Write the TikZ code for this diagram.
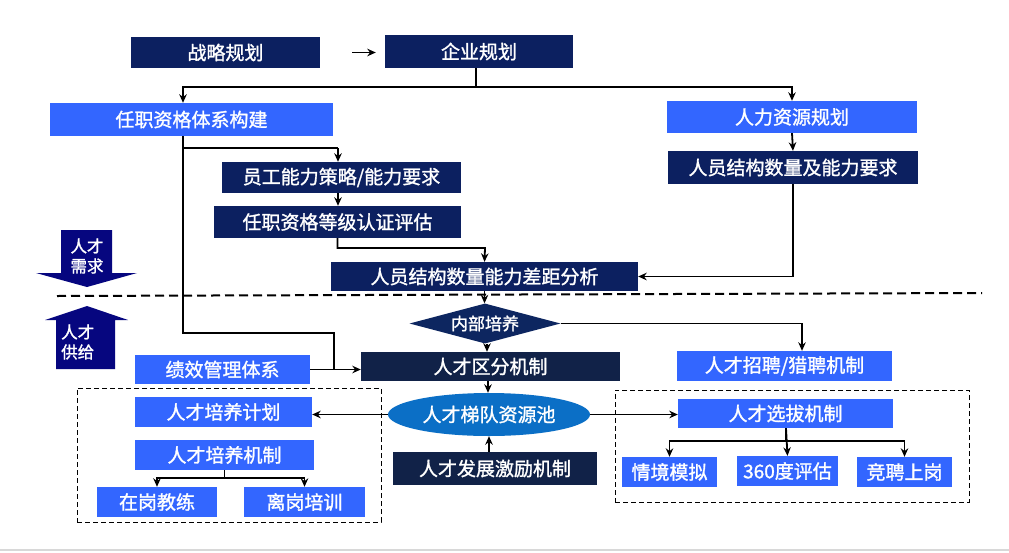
\documentclass[tikz,border=0pt]{standalone}
\usepackage{fontspec}
\setmainfont{Noto Sans CJK SC}[BoldFont={Noto Sans CJK SC}, BoldFeatures={FakeBold=1.4}]
\usetikzlibrary{shapes.geometric,arrows.meta}
\definecolor{navy}{HTML}{0C2060}
\definecolor{navytwo}{HTML}{112248}
\definecolor{bblue}{HTML}{3366FF}
\definecolor{pool}{HTML}{0B6FC6}
\definecolor{bigarrow}{HTML}{06067F}
\definecolor{diam}{HTML}{0D2660}
\definecolor{sepgray}{HTML}{D8D8D8}
\tikzset{
  bx/.style={inner sep=0pt, text=white, font=\fontsize{19}{21}\selectfont\bfseries},
  dk/.style={bx, fill=navy},
  dktwo/.style={bx, fill=navytwo},
  bl/.style={bx, fill=bblue},
  ln/.style={line width=1.8pt, black},
  ar/.style={ln, -{Stealth[length=8.5pt,width=7.5pt]}},
  grp/.style={draw=black, line width=0.9pt, dash pattern=on 5pt off 3pt, inner sep=0pt},
  bigtxt/.style={text=white, font=\fontsize{16.5}{20}\selectfont\bfseries, inner sep=0pt, align=center},
}
\begin{document}
\begin{tikzpicture}[x=1pt,y=-1pt]
\useasboundingbox (0,0) rectangle (1009,552);
\fill[white] (0,0) rectangle (1009,552);
% groups
\node[grp, minimum width=304pt, minimum height=134pt] (gL) at (229,455) {};
\node[grp, minimum width=354pt, minimum height=112pt] (gR) at (792,446) {};
% top
\node[dk, minimum width=189pt, minimum height=31pt] (s1) at (225.5,52.5) {战略规划};
\node[dk, minimum width=188pt, minimum height=33pt] (s2) at (479,51.5) {企业规划};
\node[bl, minimum width=283pt, minimum height=33pt] (b1) at (191.5,119.5) {任职资格体系构建};
\node[bl, minimum width=250pt, minimum height=32pt] (b2) at (792,117) {人力资源规划};
\node[dk, minimum width=239pt, minimum height=31pt] (d1) at (341.5,177.5) {员工能力策略/能力要求};
\node[dk, minimum width=247pt, minimum height=32pt] (d2) at (337.5,222) {任职资格等级认证评估};
\node[dk, minimum width=250pt, minimum height=33pt] (d3) at (793,167.5) {人员结构数量及能力要求};
\node[dk, minimum width=307pt, minimum height=29pt] (d4) at (484.5,276.5) {人员结构数量能力差距分析};
% separator
\draw[line width=2pt, dash pattern=on 9pt off 5pt] (57,296) -- (982,293);
% big arrows
\fill[bigarrow] (61,230) -- (112,230) -- (112,273) -- (137,273) -- (87,287) -- (36,273) -- (61,273) -- cycle;
\node[bigtxt] (need) at (87,256) {人才\\需求};
\fill[bigarrow] (87,306) -- (128,320) -- (115,320) -- (115,369) -- (56,369) -- (56,320) -- (45,320) -- cycle;
\node[bigtxt, anchor=west] (supply) at (61,342) {人才\\供给};
% lower
\node[diamond, fill=diam, text=white, inner sep=0pt, minimum width=151pt, minimum height=40pt, aspect=3.75, font=\fontsize{17}{19}\selectfont\bfseries] (dm) at (485,323.5) {内部培养};
\node[dktwo, minimum width=259pt, minimum height=29pt] (d5) at (490.5,366.5) {人才区分机制};
\node[bl, minimum width=175pt, minimum height=29pt] (b3) at (222.5,369.5) {绩效管理体系};
\node[bl, minimum width=215pt, minimum height=30pt] (b4) at (784.5,366) {人才招聘/猎聘机制};
\node[ellipse, fill=pool, text=white, inner sep=0pt, minimum width=202pt, minimum height=43pt, font=\fontsize{19}{21}\selectfont\bfseries] (el) at (489,414.5) {人才梯队资源池};
\node[dktwo, minimum width=204pt, minimum height=33pt] (d6) at (495,468.5) {人才发展激励机制};
\node[bl, minimum width=177pt, minimum height=30pt] (b5) at (223.5,412) {人才培养计划};
\node[bl, minimum width=179pt, minimum height=30pt] (b6) at (224.5,455) {人才培养机制};
\node[bl, minimum width=120pt, minimum height=30pt] (b7) at (157,502) {在岗教练};
\node[bl, minimum width=121pt, minimum height=30pt] (b8) at (304.5,502) {离岗培训};
\node[bl, minimum width=215pt, minimum height=29pt] (b9) at (785.5,413.5) {人才选拔机制};
\node[bl, minimum width=95pt, minimum height=30pt] (b10) at (669.5,472) {情境模拟};
\node[bl, minimum width=101pt, minimum height=30pt] (b11) at (787.5,471) {360度评估};
\node[bl, minimum width=95pt, minimum height=30pt] (b12) at (904.5,472) {竞聘上岗};
% coordinates
\coordinate (j1) at (476,87);
\coordinate (bL) at (183,136);
\coordinate (k1) at (338,148);
\coordinate (k2) at (334,333);
\coordinate (k3) at (485,248);
\coordinate (k4) at (802,324);
\coordinate (k5) at (786,441);
% connectors
\draw[ar, shorten <=32pt, shorten >=9pt] (s1.east) -- (s1.east -| s2.west);
\draw[ln] (s2.south -| j1) -- (j1);
\draw[ar] (j1) -| (bL |- b1.north);
\draw[ar] (j1) -| (b2.north);
\draw[ar] (b2.south) -- (d3.north);
\draw[ar] (d3.south) |- (d4.east);
\draw[ln] (bL) |- (k1);
\draw[ar] (k1) -- (k1 |- d1.north);
\draw[ar] (k1 |- d1.south) -- (k1 |- d2.north);
\draw[ar] (d2.south) |- (k3) -- (d4.north);
\draw[ln] (bL) |- (k2) -- (k2 |- b3.east);
\draw[ar] (b3.east) -- (b3.east -| d5.west);
\draw[ar] (d4.south) -- (d4.south |- dm.north);
\draw[ar] (dm.east) -| (k4 |- b4.north);
\draw[ar] (487,0 |- dm.south) -- (487,0 |- d5.north);
\draw[ar] (488,0 |- d5.south) -- (488,0 |- el.north);
\draw[ar] (489,0 |- d6.north) -- (489,0 |- el.south);
\draw[ar] (el.west) -- (el.west -| b5.east);
\draw[ar] (el.east) -- (el.east -| b9.west);
\draw[ar] (b6.south) -- ++(0,8) -| (b7.north);
\draw[ar] (b6.south) -- ++(0,8) -| (b8.north);
\draw[ar] (k5 |- b9.south) -- (k5) -| (b10.north);
\draw[ar] (k5 |- b9.south) -- (b11.north);
\draw[ar] (k5) -| (b12.north);
% bottom rule
\draw[sepgray, line width=1.5pt] (0,550) -- (1009,550);
\end{tikzpicture}
\end{document}
